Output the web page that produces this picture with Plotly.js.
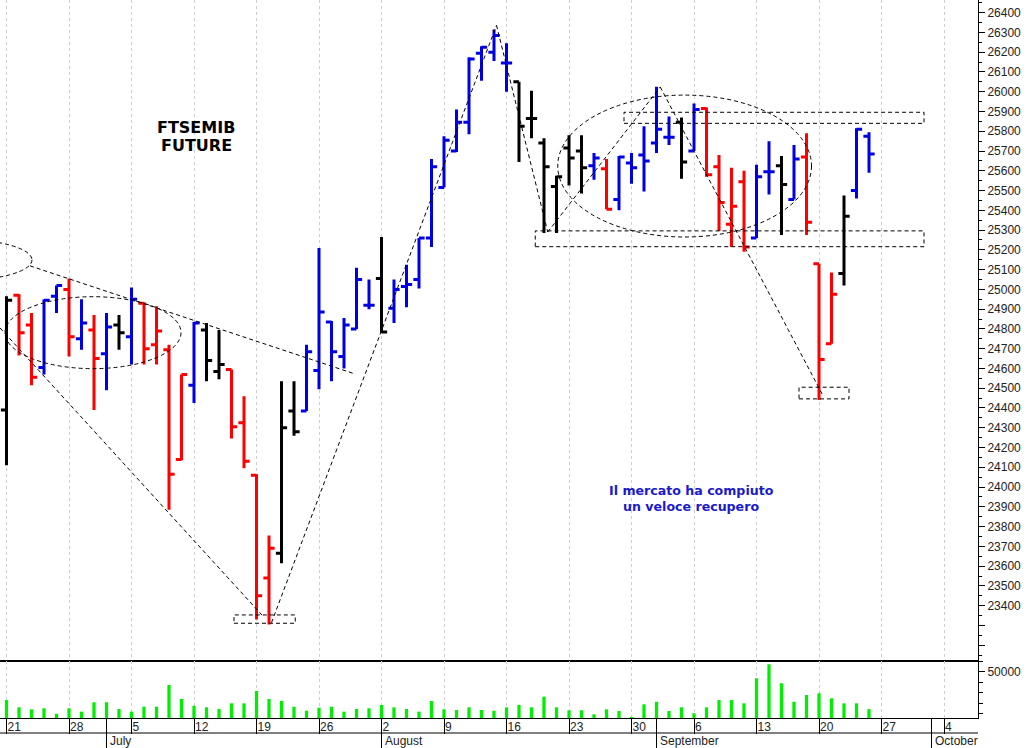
<!DOCTYPE html>
<html><head><meta charset="utf-8">
<script src="https://cdn.plot.ly/plotly-3.0.1.min.js"></script>
<style>html,body{margin:0;padding:0;background:#fff}#chart{width:1030px;height:748px}</style>
</head><body><div id="chart"></div>
<script>
// ---- data (FTSEMIB future, daily bars) ----
const dates = ['2021-06-18','2021-06-21','2021-06-22','2021-06-23','2021-06-24','2021-06-25','2021-06-28','2021-06-29','2021-06-30','2021-07-01','2021-07-02',
'2021-07-05','2021-07-06','2021-07-07','2021-07-08','2021-07-09','2021-07-12','2021-07-13','2021-07-14','2021-07-15','2021-07-16',
'2021-07-19','2021-07-20','2021-07-21','2021-07-22','2021-07-23','2021-07-26','2021-07-27','2021-07-28','2021-07-29','2021-07-30',
'2021-08-02','2021-08-03','2021-08-04','2021-08-05','2021-08-06','2021-08-09','2021-08-10','2021-08-11','2021-08-12','2021-08-13',
'2021-08-16','2021-08-17','2021-08-18','2021-08-19','2021-08-20','2021-08-23','2021-08-24','2021-08-25','2021-08-26','2021-08-27',
'2021-08-30','2021-08-31','2021-09-01','2021-09-02','2021-09-03','2021-09-06','2021-09-07','2021-09-08','2021-09-09','2021-09-10',
'2021-09-13','2021-09-14','2021-09-15','2021-09-16','2021-09-17','2021-09-20','2021-09-21','2021-09-22','2021-09-23','2021-09-24'];
const openP  = [24900,24390,24970,24820,24605,24965,25000,24750,24795,24675,24820,
24760,24930,24720,24695,24140,24515,24795,24585,24595,24325,
24060,23540,23665,24385,24385,24590,24835,24660,24800,24920,
25055,24905,25015,25050,25260,25515,25700,25845,26195,26200,
26145,26050,25865,25740,25520,25715,25700,25625,25610,25455,
25640,25680,25740,25770,25845,25700,25915,25620,25330,25545,
25260,25595,25625,25455,25670,25130,24725,25080,25500,25775];
const highP  = [24960,24965,24975,24880,24950,25020,25055,24950,24870,24880,24870,
25010,24935,24915,24720,24570,24835,24830,24795,24595,24460,
24065,23755,24535,24535,24720,25210,24840,24855,25110,25050,
25265,25050,25125,25260,25660,25775,25910,26175,26230,26315,
26245,26050,26005,25765,25575,25780,25780,25690,25660,25675,
25690,25825,26025,25875,25870,25940,25920,25680,25615,25600,
25630,25750,25675,25730,25790,25130,25085,25475,25815,25795];
const lowP   = [24520,24110,24665,24515,24570,24880,24660,24695,24390,24490,24695,
24620,24620,24620,23885,24135,24425,24535,24545,24245,24095,
23330,23305,23615,24260,24385,24495,24535,24600,24800,24900,
24780,24830,24910,25005,25215,25515,25695,25785,26055,26155,
26000,25645,25765,25285,25285,25525,25485,25555,25405,25400,
25535,25495,25690,25730,25560,25700,25570,25295,25215,25190,
25260,25480,25275,25455,25275,24440,24725,25020,25460,25590];
const closeP = [24580,24945,24780,24555,24945,25020,24760,24830,24650,24810,24780,
24950,24700,24790,24065,24570,24830,24640,24620,24305,24130,
23450,23690,24300,24280,24685,24885,24685,24820,25050,24920,
24785,25000,25025,25260,25620,25755,25845,26165,26225,26285,
26145,25825,25865,25620,25570,25665,25615,25665,25405,25670,
25615,25650,25810,25770,25645,25910,25580,25440,25420,25215,
25570,25595,25530,25660,25340,24645,24975,25370,25810,25685];
// bar colour code used by the chart: r = red, b = blue, k = black
const barColor = ['r','k','r','r','b','b','r','b','r','b','k',
'b','r','r','r','r','b','k','k','r','r',
'r','r','k','k','b','b','b','b','b','b',
'k','b','b','b','b','b','b','b','b','b',
'b','k','k','k','k','k','k','b','r','b',
'b','b','b','b','k','b','r','r','r','r',
'b','b','k','b','r','r','r','k','b','b'];
const volume = [20000,23000,16100,14200,15200,10100,15200,12000,20900,20900,14500,
12000,16700,16700,37250,24000,17600,16100,14500,19900,19900,
31600,24000,22100,16700,12900,15800,16700,12000,14500,15200,
18300,16100,14500,12000,22100,14200,13600,16100,13600,12900,
16100,18300,16100,26200,16100,13300,13300,9500,14200,12600,
7000,19000,21400,12600,16100,10500,16100,23000,23000,19900,
43600,56900,38900,21400,27800,29400,24700,19900,19900,14500];
// axis labels
const tickDates  = ['2021-06-21','2021-06-28','2021-07-05','2021-07-12','2021-07-19','2021-07-26','2021-08-02','2021-08-09',
'2021-08-16','2021-08-23','2021-08-30','2021-09-06','2021-09-13','2021-09-20','2021-09-27','2021-10-04'];
const tickLabels = ['21','28','5','12','19','26','2','9','16','23','30','6','13','20','27','4'];
const monthDates = ['2021-07-01','2021-08-01','2021-09-01','2021-10-01'];
const monthNames = ['July','August','September','October'];
const priceLabelMin = 23400, priceLabelMax = 26400;

// trading-day index (weekdays only), weekend dates snap to next Monday
const BASE = Date.UTC(2021,5,21);
function tIdx(s){
  const p = s.split('-').map(Number);
  let d = Date.UTC(p[0],p[1]-1,p[2]);
  const dow = new Date(d).getUTCDay();
  if(dow===6) d += 2*864e5; else if(dow===0) d += 864e5;
  const days = Math.round((d-BASE)/864e5);
  const w = Math.floor(days/7);
  return w*5 + (days - 7*w);
}
const xi = dates.map(tIdx);

const COL = {r:'#ff0000', b:'#0000e6', k:'#000000'};
const traces = [];
['b','r','k'].forEach(c=>{
  const ids = barColor.map((v,i)=>v===c?i:-1).filter(i=>i>=0);
  traces.push({
    type:'ohlc', xaxis:'x', yaxis:'y',
    x: ids.map(i=>xi[i]), open: ids.map(i=>openP[i]), high: ids.map(i=>highP[i]),
    low: ids.map(i=>lowP[i]), close: ids.map(i=>closeP[i]),
    increasing:{line:{color:COL[c], width:3}}, decreasing:{line:{color:COL[c], width:3}},
    tickwidth:0.45, hoverinfo:'skip', showlegend:false
  });
});
traces.push({type:'bar', xaxis:'x2', yaxis:'y2', x:xi, y:volume, width:0.26,
  marker:{color:'#00ee00', line:{width:0}}, hoverinfo:'skip', showlegend:false});

const PW = 978, PH = 718;
const volTop = 57/PH;
const xr = [-0.52, 77.72];
const yr = [23120, 26464];
const tv = tickDates.map(tIdx);
// price axis ticks every 100, labelled only inside the reference's labelled span
const pTv = [], pTt = [];
for(let v = Math.ceil(yr[0]/100)*100; v <= yr[1]; v += 100){
  pTv.push(v); pTt.push(v >= priceLabelMin && v <= priceLabelMax ? String(v) : '');
}
const axFont = {family:'Liberation Sans, Arial, sans-serif', size:12, color:'#222'};
const dashL = {color:'#000', width:1, dash:'4px,3px'};

const shapes = [
  // trend lines
  {type:'line', xref:'x', yref:'y', x0:-0.52, y0:24805, x1:20.44, y1:23352, line:dashL},
  {type:'line', xref:'x', yref:'y', x0:21.2, y0:23314, x1:39.2, y1:26336, line:dashL},
  {type:'line', xref:'x', yref:'y', x0:39.2, y0:26336, x1:43.3, y1:25290, line:dashL},
  {type:'line', xref:'x', yref:'y', x0:43.3, y0:25290, x1:52.3, y1:26024, line:dashL},
  {type:'line', xref:'x', yref:'y', x0:52.3, y0:26024, x1:65.3, y1:24465, line:dashL},
  {type:'line', xref:'x', yref:'y', x0:1.88, y0:25119, x1:27.88, y1:24572, line:dashL},
  // ellipses
  {type:'circle', xref:'x', yref:'y', x0:-0.12, x1:13.96, y0:24599, y1:24963, line:dashL},
  {type:'circle', xref:'x', yref:'y', x0:44.1, x1:64.4, y0:25265, y1:25983, line:dashL},
  {type:'circle', xref:'x', yref:'y', x0:-9.48, x1:2.04, y0:25045, y1:25253, line:dashL},
  // boxes
  {type:'rect', xref:'x', yref:'y', x0:18.2, x1:23.1, y0:23311, y1:23353, line:dashL},
  {type:'rect', xref:'x', yref:'y', x0:42.3, x1:73.4, y0:25216, y1:25296, line:dashL},
  {type:'rect', xref:'x', yref:'y', x0:49.4, x1:73.4, y0:25840, y1:25896, line:dashL},
  {type:'rect', xref:'x', yref:'y', x0:63.4, x1:67.4, y0:24446, y1:24505, line:dashL},
  // lower axis frame
  {type:'line', xref:'paper', yref:'paper', x0:0, x1:1, y0:-15/PH, y1:-15/PH, line:{color:'#000', width:1}}
];
monthDates.forEach(d=>{
  shapes.push({type:'line', xref:'x2', yref:'paper', x0:tIdx(d), x1:tIdx(d), y0:0, y1:-30/PH, line:{color:'#000', width:1}});
});
const tFont = {family:'DejaVu Sans, Verdana, sans-serif', size:16, color:'#000'};
const bFont = {family:'DejaVu Sans, Verdana, sans-serif', size:12.6, color:'#1a1acc'};
const annotations = [
  {xref:'paper', yref:'paper', x:196/PW, y:1-128/PH, xanchor:'center', yanchor:'middle', text:'<b>FTSEMIB</b>', showarrow:false, font:tFont},
  {xref:'paper', yref:'paper', x:196/PW, y:1-145/PH, xanchor:'center', yanchor:'middle', text:'<b>FUTURE</b>', showarrow:false, font:tFont},
  {xref:'paper', yref:'paper', x:691/PW, y:1-490/PH, xanchor:'center', yanchor:'middle', text:'<b>Il mercato ha compiuto</b>', showarrow:false, font:bFont},
  {xref:'paper', yref:'paper', x:691/PW, y:1-506/PH, xanchor:'center', yanchor:'middle', text:'<b>un veloce recupero</b>', showarrow:false, font:bFont}
];
monthDates.forEach((d,k)=>{
  annotations.push({xref:'x2', yref:'paper', x:tIdx(d), y:-23/PH, xanchor:'left', yanchor:'middle', xshift:1,
    text:monthNames[k], showarrow:false, font:axFont});
});

const layout = {
  width:1030, height:748, margin:{l:0, r:52, t:0, b:30},
  paper_bgcolor:'#fff', plot_bgcolor:'#fff', showlegend:false, dragmode:false,
  xaxis:{domain:[0,1], anchor:'y', range:xr, tickvals:tv, showticklabels:false, ticks:'',
    showgrid:true, gridcolor:'#cdcdd6', griddash:'3px,3px', gridwidth:1, zeroline:false,
    showline:true, linecolor:'#000', linewidth:1, rangeslider:{visible:false}},
  xaxis2:{domain:[0,1], anchor:'y2', range:xr, tickvals:tv, ticktext:tickLabels, ticks:'outside', ticklen:15,
    tickcolor:'#000', tickwidth:1, ticklabelposition:'outside right', ticklabelstandoff:-2,
    showgrid:true, gridcolor:'#cdcdd6', griddash:'3px,3px', zeroline:false,
    showline:true, linecolor:'#000', linewidth:1, mirror:true, tickfont:axFont, rangeslider:{visible:false}},
  yaxis:{domain:[volTop,1], anchor:'x', side:'right', range:yr, tickmode:'array', tickvals:pTv, ticktext:pTt,
    ticks:'outside', ticklen:6, tickcolor:'#000', showline:true, linecolor:'#000', showgrid:false, zeroline:false,
    minor:{tickmode:'linear', tick0:0, dtick:50, ticks:'outside', ticklen:3, tickcolor:'#000', showgrid:false}, tickfont:axFont},
  yaxis2:{domain:[0,volTop], anchor:'x2', side:'right', range:[6000,60000], tickvals:[50000], ticktext:['50000'],
    ticks:'outside', ticklen:6, tickcolor:'#000', showline:true, linecolor:'#000', showgrid:false, zeroline:false,
    minor:{tickmode:'linear', tick0:0, dtick:10000, ticks:'outside', ticklen:4, tickcolor:'#000', showgrid:false}, tickfont:axFont},
  shapes:shapes, annotations:annotations
};
Plotly.newPlot('chart', traces, layout, {displayModeBar:false, staticPlot:true});
</script></body></html>
